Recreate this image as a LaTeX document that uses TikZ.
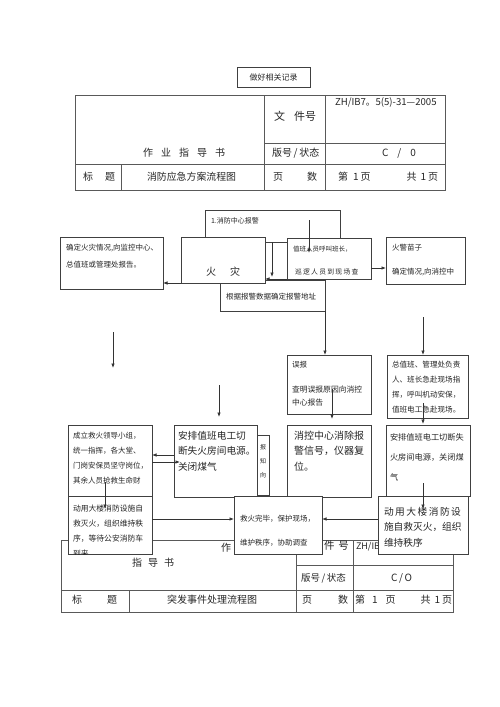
\documentclass[tikz,border=0pt]{standalone}
\usepackage{fontspec}
\setmainfont{Noto Sans CJK SC}
\usetikzlibrary{arrows.meta}
\newcommand\fsz[2]{\fontsize{#1}{#2}\selectfont}
\newcommand\mybox[5]{\node[bx, minimum width={(#4)-(#2)}, minimum height={(#5)-(#3)}] (#1) at (#2,#3) {};}
\begin{document}
\begin{tikzpicture}[x=1pt,y=-1pt,
  bx/.style={draw=black!75, fill=white, line width=0.7pt, inner sep=0pt, outer sep=0pt, anchor=north west},
  tbx/.style={draw=black!65, line width=0.8pt, inner sep=0pt, outer sep=0pt, anchor=north west},
  tx/.style={inner sep=0pt, outer sep=0pt, anchor=north west, align=left, text=black!85},
  hx/.style={inner sep=0pt, outer sep=0pt, anchor=west, text=black!85},
  tl/.style={draw=black!65, line width=0.8pt},
  ar/.style={draw=black!80, line width=0.7pt, -{Latex[length=4.5pt,width=3.5pt]}}]
\path[fill=white] (0,0) rectangle (500,707);
\useasboundingbox (0,0) rectangle (500,707);

% record box
\mybox{rec}{237}{67}{310}{87}
\node[hx, anchor=center, font=\fsz{8}{10}] (trec) at (rec.center) {做好相关记录};

% ---------- table 1 ----------
\node[tbx, minimum width=370, minimum height=95] (tab1) at (75,95) {};
\draw[tl] (264,95) -- (264,190);
\draw[tl] (325,95) -- (325,190);
\draw[tl] (264,143) -- (445,143);
\draw[tl] (75,164) -- (445,164);
\draw[tl] (121,164) -- (121,190);
\node[hx, font=\fsz{11}{12}] (h1a) at (274,116) {文\hspace{9pt}件号};
\node[hx, font=\fsz{9.6}{10}] (h1b) at (335,103) {ZH/IB7。5(5)-31—2005};
\node[hx, font=\fsz{10}{12}] (h1c) at (143,153) {作\hspace{8pt}业\hspace{8pt}指\hspace{8pt}导\hspace{8pt}书};
\node[hx, font=\fsz{10}{12}] (h1d) at (272,153) {版号\,/\,状态};
\node[hx, font=\fsz{10}{12}] (h1e) at (382,153) {C\hspace{9pt}/\hspace{9pt}0};
\node[hx, font=\fsz{10}{12}] (h1f) at (83,177) {标\hspace{12pt}题};
\node[hx, font=\fsz{9.9}{12}] (h1g) at (147,177) {消防应急方案流程图};
\node[hx, font=\fsz{10}{12}] (h1h) at (273,177) {页\hspace{24pt}数};
\node[hx, font=\fsz{10}{12}] (h1i) at (338,177) {第\hspace{5pt}1\hspace{2pt}页\hspace{36pt}共\hspace{4pt}1\hspace{2pt}页};

% ---------- table 2 ----------
\node[tbx, minimum width=392, minimum height=72] (tab2) at (61,540) {};
\draw[tl] (296,540) -- (296,612);
\draw[tl] (353,540) -- (353,612);
\draw[tl] (296,565) -- (453,565);
\draw[tl] (61,590) -- (453,590);
\draw[tl] (129,590) -- (129,612);
\node[hx, font=\fsz{10}{12}] (h2a) at (221,548) {作};
\node[hx, font=\fsz{10}{12}] (h2b) at (132,563) {指\hspace{6pt}导\hspace{6pt}书};
\node[hx, font=\fsz{10.5}{12}] (h2c) at (324,546) {件\hspace{4pt}号};
\node[hx, font=\fsz{9}{10}] (h2d) at (356,547) {ZH/IB};
\node[hx, font=\fsz{9.5}{12}] (h2e) at (301,578) {版号\,/\,状态};
\node[hx, font=\fsz{10}{12}] (h2f) at (391,578) {C\,/\,O};
\node[hx, font=\fsz{10}{12}] (h2g) at (72,600) {标\hspace{25pt}题};
\node[hx, font=\fsz{10}{12}] (h2h) at (167,600) {突发事件处理流程图};
\node[hx, font=\fsz{10}{12}] (h2i) at (302,600) {页\hspace{26pt}数};
\node[hx, font=\fsz{10}{12}] (h2j) at (355,600) {第\hspace{7pt}1\hspace{8pt}页\hspace{25pt}共\hspace{4pt}1\hspace{2pt}页};

% ---------- flow, upper part ----------
\mybox{xfzx}{205}{210}{340}{242}
\node[hx, font=\fsz{7}{9}] (txfzx) at (211,221) {1.消防中心报警};
\mybox{gj}{220}{280}{325}{311}
\node[hx, font=\fsz{7.5}{9}] (tgj) at (226,297) {根据报警数据确定报警地址};
\mybox{hz}{181}{237}{265}{283}
\node[hx, font=\fsz{10}{12}] (thz) at (206,272) {火\hspace{14pt}灾};
\mybox{qd}{60}{237}{163}{289}
\node[tx, font=\fsz{7.5}{17}] (tqd) at (66,244.5) {确定火灾情况,向监控中心、\\总值班或管理处报告。};
\mybox{zb}{287}{238}{371}{279}
\node[hx, font=\fsz{6.5}{9}] (tzb1) at (293,249) {值班人员呼叫班长，};
\node[hx, font=\fsz{6.8}{9}] (tzb2) at (295,272) {巡\kern1.3pt 逻\kern1.3pt 人\kern1.3pt 员\kern1.3pt 到\kern1.3pt 现\kern1.3pt 场\kern1.3pt 查};
\mybox{hj}{386}{237}{465}{284}
\node[tx, font=\fsz{7.5}{24}] (thj) at (392,244.5) {火警苗子\\确定情况,向消控中};
\mybox{wb}{287}{355}{371}{414}
\node[hx, font=\fsz{7.5}{9}] (twb1) at (292,365) {误报};
\node[tx, font=\fsz{7.8}{13}] (twb2) at (292,386) {查明误报原因向消控\\中心报告};
\mybox{zz}{387}{355}{468}{418}
\node[tx, font=\fsz{7.6}{15}] (tzz) at (392,361) {总值班、管理处负责\\人、班长急赴现场指\\挥，呼叫机动安保，\\值班电工急赴现场。};

% ---------- flow, lower part ----------
\mybox{cl}{68}{425}{152}{497}
\node[tx, font=\fsz{7.5}{15}] (tcl) at (73,432) {成立救火领导小组，\\统一指挥，各大堂、\\门岗安保员坚守岗位，\\其余人员抢救生命财};
\mybox{nb}{257}{435}{269}{495}
\node[tx, font=\fsz{6}{14}] (tnb) at (260,444) {报\\知\\向};
\mybox{ap}{174}{425}{257}{497}
\node[tx, font=\fsz{9.7}{15.5}] (tap) at (178,431) {安排值班电工切\\断失火房间电源。\\关闭煤气};
\mybox{xk}{287}{425}{371}{497}
\node[tx, font=\fsz{10}{15.5}] (txk) at (294,431) {消控中心消除报\\警信号，仪器复\\位。};
\mybox{as}{386}{425}{470}{496}
\node[tx, font=\fsz{8.2}{20}] (tas) at (390,434) {安排值班电工切断失\\火房间电源，关闭煤\\气};
\mybox{dl}{68}{496}{152}{554}
\begin{scope}
\clip (dl.north west) rectangle (dl.south east);
\node[tx, font=\fsz{7.8}{15}] (tdl) at (73,505) {动用大楼消防设施自\\救灭火，组织维持秩\\序，等待公安消防车\\到来};
\end{scope}
\mybox{jh}{234}{496}{322}{554}
\node[tx, font=\fsz{7.5}{24}] (tjh) at (240,515) {救火完毕，保护现场，\\维护秩序，协助调查};
\mybox{dr}{378}{496}{468}{554}
\node[tx, font=\fsz{9.7}{15.5}] (tdr) at (384,507) {动\kern1.5pt 用\kern1.5pt 大\kern1.5pt 楼\kern1.5pt 消\kern1.5pt 防\kern1.5pt 设\\施自救灭火，组织\\维持秩序};

% ---------- connectors ----------
\coordinate (a1s) at (309,220);
\draw[ar] (a1s) -- (a1s |- 0,253);
\coordinate (a2s) at (272,242);
\draw[ar] (a2s) -- (272,277);
\draw[ar] (zb.south west) -- (hz.east |- zb.south west);
\draw[ar] (hz.south west) -- (qd.east |- hz.south west);
\draw[ar] (zb.east |- 0,268) -- (hj.west |- 0,268);
\draw[ar] (gj.south east) -- (gj.south east |- wb.north);
\coordinate (a8s) at (332,389);
\draw[ar] (a8s) -- (332,419);
\coordinate (a9s) at (423,317);
\draw[ar] (a9s) -- (a9s |- zz.north);
\coordinate (a10s) at (423,403);
\draw[ar] (a10s) -- (423,424);
\coordinate (a11s) at (113,332);
\coordinate (a11e) at (113,368);
\draw[ar] (a11s) -- (a11e);
\coordinate (a12s) at (219,385);
\coordinate (a12e) at (219,417);
\draw[ar] (a12s) -- (a12e);
\draw[ar] (ap.west |- 0,455) -- (cl.east |- 0,455);
\draw[ar] (cl.east |- 0,462) -- (180,462);
\coordinate (a15s) at (105,482);
\draw[ar] (a15s) -- (105,509);
\draw[ar] (dl.east |- 0,519) -- (jh.west |- 0,519);
\draw[ar] (dr.west |- 0,519) -- (jh.east |- 0,519);
\coordinate (a18s) at (423,483);
\draw[ar] (a18s) -- (423,509);
\end{tikzpicture}
\end{document}
